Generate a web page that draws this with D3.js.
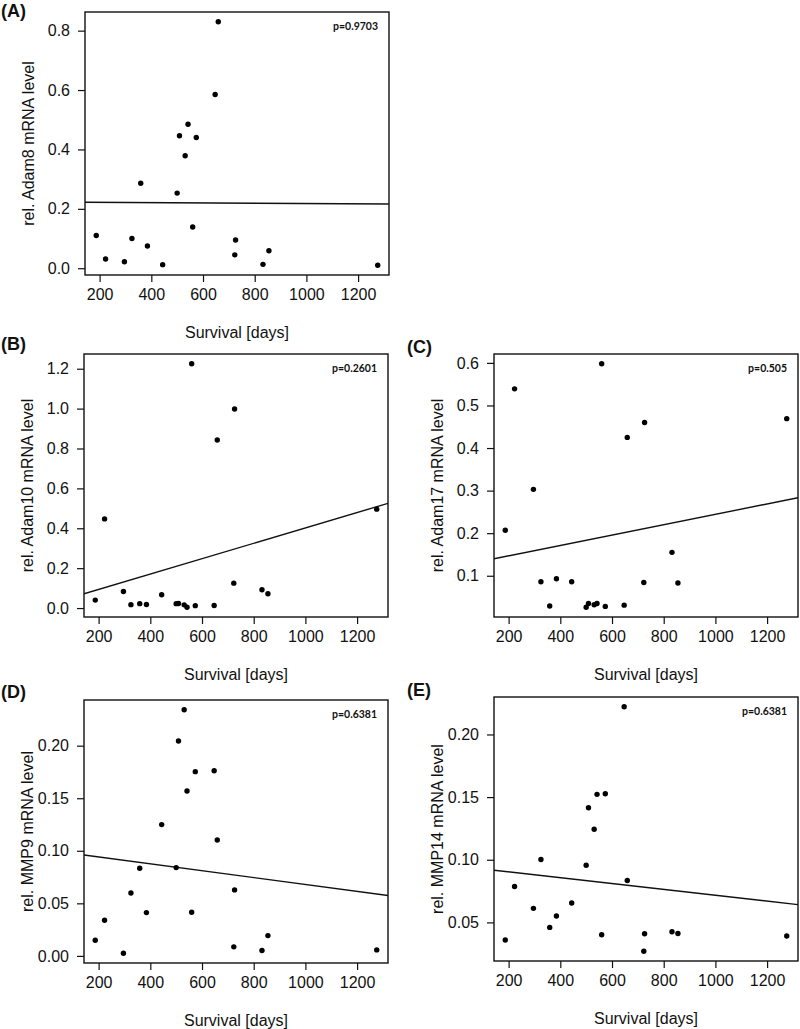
<!DOCTYPE html>
<html><head><meta charset="utf-8">
<script src="https://cdn.jsdelivr.net/npm/d3@7"></script>
<style>body{margin:0;background:#fff}</style>
</head><body>
<svg id="chart" width="800" height="1029"></svg>
<script>
// ---------- data ----------
const survivalDays = [187, 223, 296, 325, 359, 385, 444, 500, 509, 531, 542, 560, 574, 647, 659, 723, 726, 832, 855, 1276];
const adam8  = [0.110, 0.031, 0.022, 0.100, 0.286, 0.075, 0.012, 0.253, 0.446, 0.379, 0.485, 0.139, 0.440, 0.585, 0.830, 0.045, 0.095, 0.013, 0.059, 0.010];
const adam10 = [0.040, 0.447, 0.083, 0.017, 0.022, 0.018, 0.067, 0.022, 0.023, 0.016, 0.004, 1.225, 0.012, 0.013, 0.843, 0.125, 0.998, 0.092, 0.072, 0.496];
const adam17 = [0.207, 0.539, 0.303, 0.086, 0.029, 0.093, 0.086, 0.026, 0.035, 0.032, 0.035, 0.598, 0.028, 0.031, 0.425, 0.084, 0.460, 0.155, 0.083, 0.469];
const mmp9   = [0.0149, 0.0339, 0.0025, 0.0599, 0.0834, 0.0412, 0.1249, 0.0840, 0.2044, 0.2342, 0.1569, 0.0415, 0.1753, 0.1762, 0.1103, 0.0086, 0.0628, 0.0051, 0.0193, 0.0057];
const mmp14  = [0.0359, 0.0786, 0.0612, 0.1002, 0.0460, 0.0551, 0.0655, 0.0956, 0.1415, 0.1244, 0.1522, 0.0401, 0.1527, 0.2221, 0.0834, 0.0270, 0.0409, 0.0425, 0.0412, 0.0391];

const fitIntercepts = [0.2227, 0.0161, 0.1224, 0.1007, 0.0950];
const fitSlopes     = [-0.000005, 0.0003857, 0.0001219, -0.00003277, -0.00002335];

const panelLetters = ["(A)", "(B)", "(C)", "(D)", "(E)"];
const yTitles = ["rel. Adam8 mRNA level", "rel. Adam10 mRNA level", "rel. Adam17 mRNA level", "rel. MMP9 mRNA level", "rel. MMP14 mRNA level"];
const pLabels = ["p=0.9703", "p=0.2601", "p=0.505", "p=0.6381", "p=0.6381"];
const xTitle = "Survival [days]";
const xTicks = [200, 400, 600, 800, 1000, 1200];
const yTicksA = [0.0, 0.2, 0.4, 0.6, 0.8];
const yTicksB = [0.0, 0.2, 0.4, 0.6, 0.8, 1.0, 1.2];
const yTicksC = [0.1, 0.2, 0.3, 0.4, 0.5, 0.6];
const yTicksD = [0.00, 0.05, 0.10, 0.15, 0.20];
const yTicksE = [0.05, 0.10, 0.15, 0.20];
const yFormats = [".1f", ".1f", ".1f", ".2f", ".2f"];

// ---------- layout (positions only) ----------
const boxes = [
  {x0: 85,  x1: 389, y0: 12,  y1: 275, lx: 1,   ly: 17},
  {x0: 84,  x1: 388, y0: 354, y1: 617, lx: 1,   ly: 350},
  {x0: 494, x1: 798, y0: 354, y1: 617, lx: 407, ly: 353},
  {x0: 84,  x1: 388, y0: 700, y1: 963, lx: 1,   ly: 698},
  {x0: 494, x1: 798, y0: 697, y1: 961, lx: 407, ly: 696}
];

const seriesList = [adam8, adam10, adam17, mmp9, mmp14];
const yTickList = [yTicksA, yTicksB, yTicksC, yTicksD, yTicksE];

const svg = d3.select("#chart");
const FONT = "'Liberation Sans', Arial, sans-serif";
const INK = "#111";

function padded(ext) {
  const r = ext[1] - ext[0];
  return [ext[0] - 0.04 * r, ext[1] + 0.04 * r];
}

seriesList.forEach((vals, i) => {
  const b = boxes[i];
  const x = d3.scaleLinear().domain(padded(d3.extent(survivalDays))).range([b.x0, b.x1]);
  const y = d3.scaleLinear().domain(padded(d3.extent(vals))).range([b.y1, b.y0]);
  const g = svg.append("g");

  const clipId = "clip" + i;
  svg.append("clipPath").attr("id", clipId)
    .append("rect").attr("x", b.x0).attr("y", b.y0).attr("width", b.x1 - b.x0).attr("height", b.y1 - b.y0);

  // axes
  const yAxis = g.append("g").attr("transform", `translate(${b.x0},0)`)
    .call(d3.axisLeft(y).tickValues(yTickList[i]).tickFormat(d3.format(yFormats[i])).tickSize(7).tickPadding(8));
  const xAxis = g.append("g").attr("transform", `translate(0,${b.y1})`)
    .call(d3.axisBottom(x).tickValues(xTicks).tickFormat(d3.format("d")).tickSize(7).tickPadding(7));
  [yAxis, xAxis].forEach(ax => {
    ax.select(".domain").remove();
    ax.selectAll(".tick line").attr("stroke", INK).attr("stroke-width", 1.2);
    ax.selectAll(".tick text").attr("fill", INK).style("font-family", FONT).style("font-size", "16px");
  });

  // box
  g.append("rect").attr("x", b.x0).attr("y", b.y0).attr("width", b.x1 - b.x0).attr("height", b.y1 - b.y0)
    .attr("fill", "none").attr("stroke", INK).attr("stroke-width", 1.4);

  // regression line
  const xd = x.domain();
  g.append("line").attr("clip-path", `url(#${clipId})`)
    .attr("x1", x(xd[0])).attr("y1", y(fitIntercepts[i] + fitSlopes[i] * xd[0]))
    .attr("x2", x(xd[1])).attr("y2", y(fitIntercepts[i] + fitSlopes[i] * xd[1]))
    .attr("stroke", INK).attr("stroke-width", 1.4);

  // points
  g.selectAll("circle.pt").data(vals).join("circle").attr("class", "pt")
    .attr("cx", (d, j) => x(survivalDays[j])).attr("cy", d => y(d)).attr("r", 2.7).attr("fill", "#000");

  // titles
  g.append("text").attr("x", (b.x0 + b.x1) / 2).attr("y", b.y1 + 63)
    .attr("text-anchor", "middle").attr("fill", INK).style("font-family", FONT).style("font-size", "16px")
    .text(xTitle);
  g.append("text").attr("transform", `translate(${b.x0 - 51},${(b.y0 + b.y1) / 2}) rotate(-90)`)
    .attr("text-anchor", "middle").attr("fill", INK).style("font-family", FONT).style("font-size", "16px")
    .text(yTitles[i]);
  g.append("text").attr("x", b.lx).attr("y", b.ly)
    .attr("fill", INK).style("font-family", FONT).style("font-size", "18px").style("font-weight", "bold")
    .text(panelLetters[i]);
  g.append("text").attr("x", b.x1 - 11).attr("y", b.y0 + 14.5).attr("dy", "0.35em")
    .attr("text-anchor", "end").attr("fill", INK).style("font-family", "Lato, 'Open Sans', sans-serif")
    .style("font-size", "10.5px").style("font-weight", "bold")
    .text(pLabels[i]);
});
</script>
</body></html>
